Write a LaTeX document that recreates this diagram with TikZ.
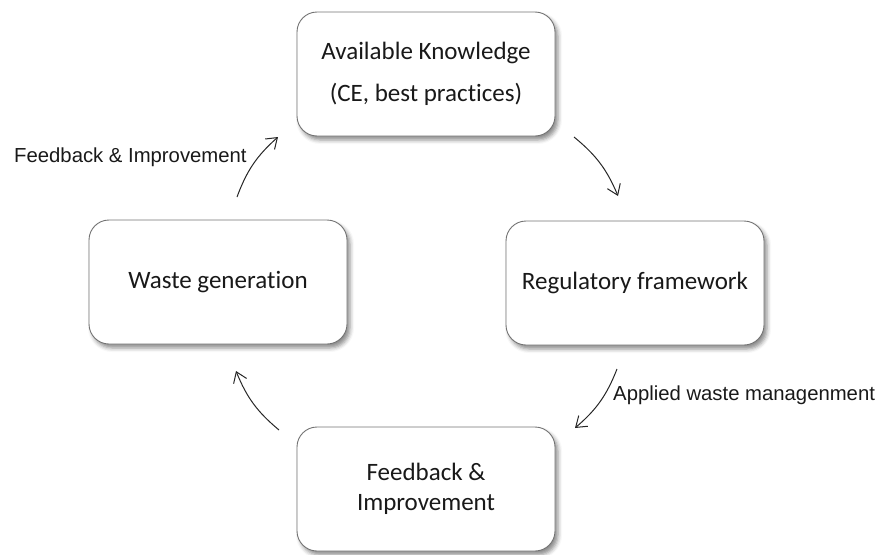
\documentclass[tikz,border=0pt]{standalone}
\usepackage{fontspec}
\setmainfont{Carlito}[Ligatures={NoCommon}]
\newfontfamily\labelfont{Liberation Sans}
\usetikzlibrary{arrows.meta,shadows.blur}
\tikzset{
  box/.style={draw=black!55, line width=0.9pt, rounded corners=20pt, fill=white,
    minimum width=258pt, minimum height=124pt, align=center, inner sep=0pt,
    font=\fontsize{25}{30}\selectfont, text=black!90,
    blur shadow={shadow xshift=3pt, shadow yshift=-4pt, shadow blur radius=4pt, shadow opacity=45}},
  flow/.style={draw=black!85, line width=1pt, -{Straight Barb[length=10pt,width=14pt,line width=1pt]}, bend left=14},
  lbl/.style={font=\labelfont\fontsize{20.3}{24}\selectfont, text=black!90, inner sep=0pt}
}
\begin{document}
\begin{tikzpicture}[x=1pt,y=1pt]
\useasboundingbox (0,0) rectangle (877,-554);
\node[box] (know) at (426,-74) {Available Knowledge\\[12pt](CE, best practices)};
\node[box] (reg) at (635,-283) {Regulatory framework};
\node[box] (fb) at (426,-489) {Feedback \&\\Improvement};
\node[box] (waste) at (218,-282) {Waste genera\kern0pt tion};
\coordinate (a1s) at (574,-137);
\coordinate (a1e) at (618,-196);
\coordinate (a2s) at (617,-369);
\coordinate (a2e) at (575,-428);
\coordinate (a3s) at (279,-430);
\coordinate (a3e) at (236,-371);
\coordinate (a4s) at (237,-197);
\coordinate (a4e) at (278,-137);
\draw[flow] (a1s) to (a1e);
\draw[flow] (a2s) to (a2e);
\draw[flow] (a3s) to (a3e);
\draw[flow] (a4s) to (a4e);
\node[lbl, anchor=west] (l1) at (14,-157) {Feedback \& Improvement};
\node[lbl, anchor=west] (l2) at (613,-395) {Applied waste managenment};
\end{tikzpicture}
\end{document}
